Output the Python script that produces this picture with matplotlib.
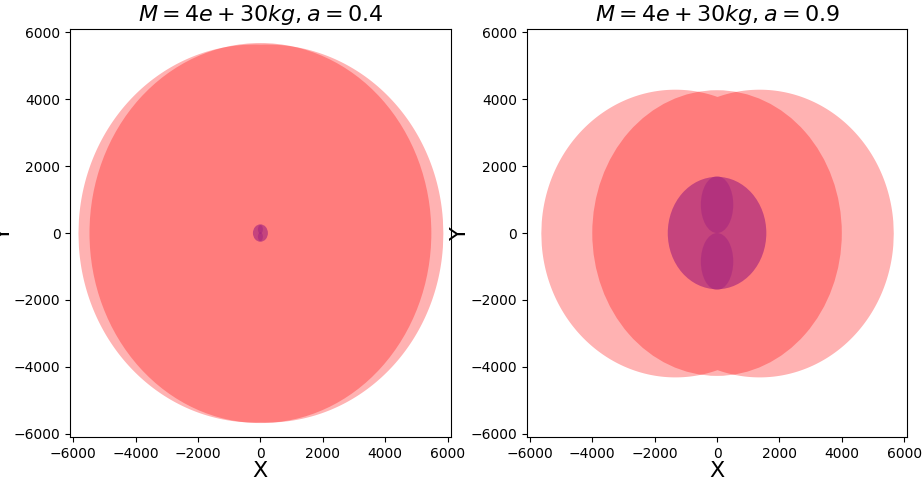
import matplotlib.pyplot as plt
from matplotlib.patches import Ellipse
import numpy as np

titles = ['$M = 4e+30 kg, a = 0.4$', '$M = 4e+30 kg, a = 0.9$']
# outer ergoregion: union of two shifted circles (shift, radius)
ergo = [(200, 5650), (1350, 4300)]
# outer horizon ellipse: (half width, half height)
outer_h = [(5480, 5680), (4000, 4270)]
# inner horizon ellipse
inner_h = [(240, 260), (1580, 1680)]
# inner lobes: (centre y, half width, half height)
lobes = [(110, 80, 130), (850, 520, 850)]

fig, axes = plt.subplots(1, 2, figsize=(9.23, 4.83), dpi=100)
plt.subplots_adjust(left=0.076, right=0.983, bottom=0.095, top=0.94, wspace=0.2)
for i, ax in enumerate(axes):
    s, r = ergo[i]
    x = np.linspace(-s - r, s + r, 800)
    y1 = np.sqrt(np.clip(r**2 - (x - s)**2, 0, None))
    y2 = np.sqrt(np.clip(r**2 - (x + s)**2, 0, None))
    yt = np.maximum(y1, y2)
    ax.fill_between(x, -yt, yt, color='red', alpha=0.3, lw=0)
    w, h = outer_h[i]
    ax.add_patch(Ellipse((0, 0), 2*w, 2*h, color='red', alpha=0.3, lw=0))
    w, h = inner_h[i]
    ax.add_patch(Ellipse((0, 0), 2*w, 2*h, color='purple', alpha=0.45, lw=0))
    cy, w, h = lobes[i]
    for y in (-cy, cy):
        ax.add_patch(Ellipse((0, y), 2*w, 2*h, color='purple', alpha=0.25, lw=0))
    ax.set_xlim(-6100, 6100)
    ax.set_ylim(-6100, 6100)
    ax.set_title(titles[i], fontsize=16)
    ax.set_xlabel('X', fontsize=16, labelpad=0)
    ax.set_ylabel('Y', fontsize=16, labelpad=0)
    ax.tick_params(labelsize=10)
fig.savefig('out.png')
